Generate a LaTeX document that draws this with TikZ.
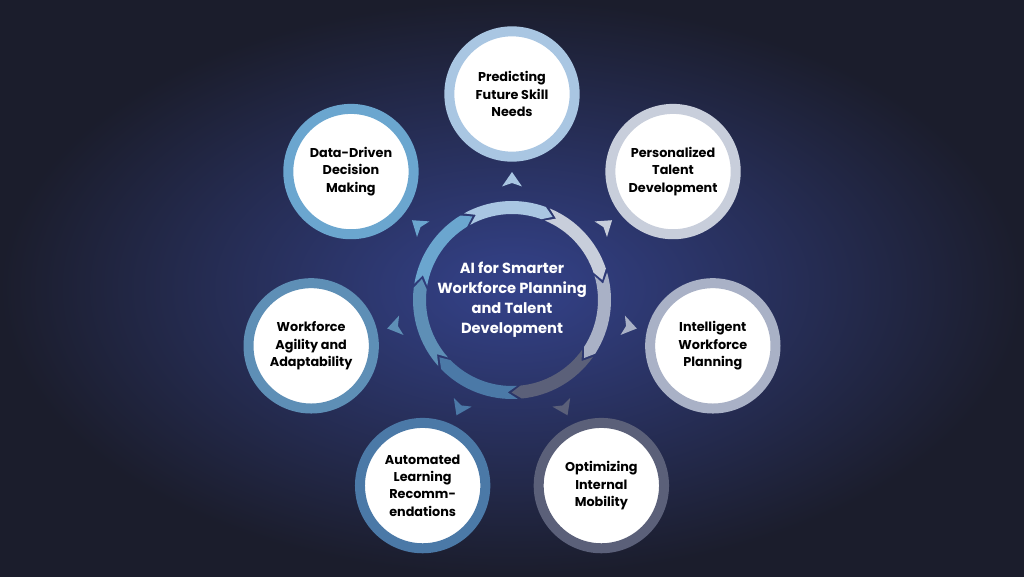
\documentclass[tikz,border=0pt]{standalone}
\usepackage{fontspec}
\setmainfont{Poppins}
\usetikzlibrary{calc}
\definecolor{bgin}{HTML}{34428A}
\definecolor{bgout}{HTML}{1B1D2C}
\definecolor{cA}{HTML}{A9C6E2}
\definecolor{cB}{HTML}{C8CEDB}
\definecolor{cC}{HTML}{A9B1C6}
\definecolor{cD}{HTML}{5B6079}
\definecolor{cE}{HTML}{4B79A7}
\definecolor{cF}{HTML}{5E8FB6}
\definecolor{cG}{HTML}{6BA6CF}
\tikzset{
  topic/.style={circle, fill=white, draw=#1, line width=7.5pt, minimum size=94pt, inner sep=0pt,
     align=center, font=\fontsize{9.6}{13}\selectfont\bfseries, text=black},
  hub/.style={align=center, font=\fontsize{11}{15}\selectfont\bfseries, text=white}
}
\begin{document}
\begin{tikzpicture}[x=0.75pt,y=0.75pt]
\shade[inner color=bgin, outer color=bgout] (0,0) rectangle (1024,576);
\useasboundingbox (0,0) rectangle (1024,576);
\coordinate (c) at (512,276);
\node[hub] (hub) at (c) {AI for Smarter\\Workforce Planning\\and Talent\\Development};
\foreach \a/\col/\nm/\txt in {
  90/cA/t1/{Predicting\\Future Skill\\Needs},
  38.57/cB/t2/{Personalized\\Talent\\Development},
  -12.86/cC/t3/{Intelligent\\Workforce\\Planning},
  -64.29/cD/t4/{Optimizing\\Internal\\Mobility},
  -115.71/cE/t5/{Automated\\Learning\\Recomm-\\endations},
  -167.14/cF/t6/{Workforce\\Agility and\\Adaptability},
  -218.57/cG/t7/{Data-Driven\\Decision\\Making}} {
  \node[topic=\col] (\nm) at ($(c)+(\a:206)$) {\txt};
  \pgfmathsetmacro\s{\a+29}
  \pgfmathsetmacro\e{\a-20}
  \pgfmathsetmacro\et{\e-6}
  \pgfmathsetmacro\st{\s-6}
  \fill[\col] ($(c)+(\s:99)$) arc[start angle=\s, end angle=\e, radius=99]
     -- ($(c)+(\et:92.5)$) -- ($(c)+(\e:86)$)
     arc[start angle=\e, end angle=\s, radius=86] -- ($(c)+(\st:92.5)$) -- cycle;
  \fill[\col] ($(c)+(\a:128)$) -- ($(c)+(\a+5:114)$) -- ($(c)+(\a:117)$) -- ($(c)+(\a-5:114)$) -- cycle;
}
\end{tikzpicture}
\end{document}
